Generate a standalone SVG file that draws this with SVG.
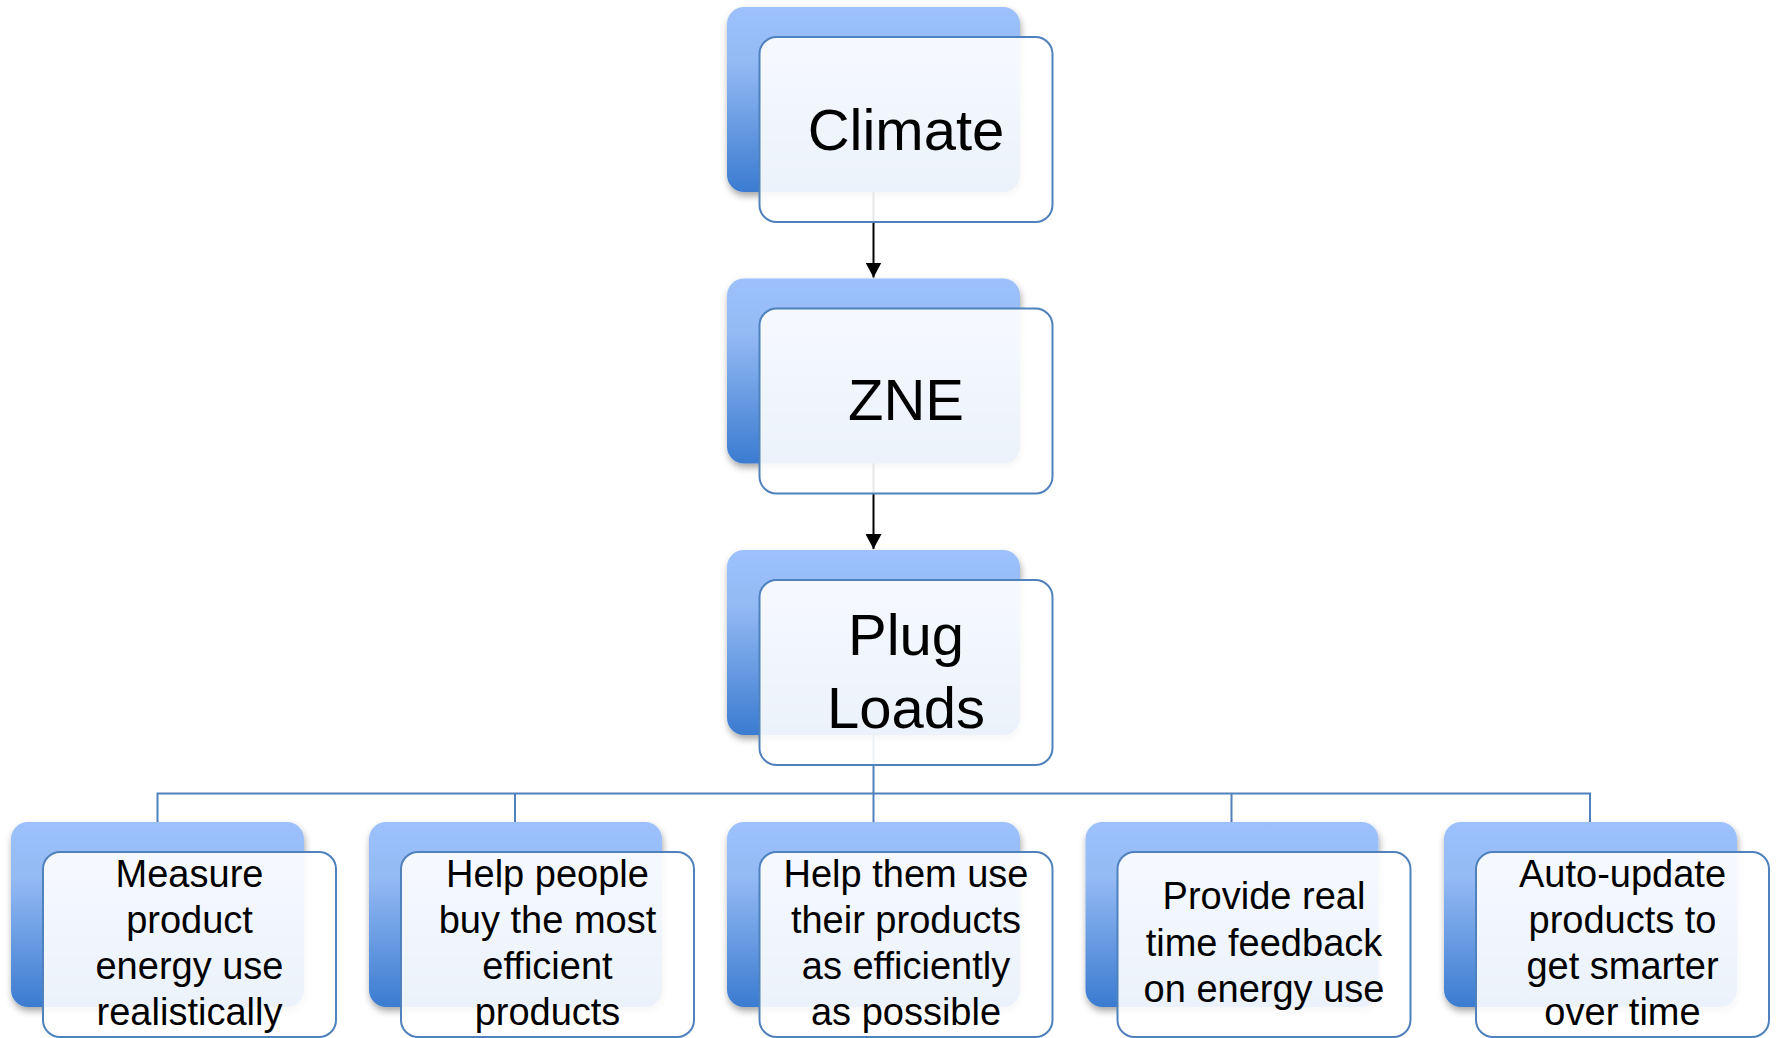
<svg xmlns="http://www.w3.org/2000/svg" width="1777" height="1038" viewBox="0 0 1777 1038">
<defs>
<linearGradient id="blueGrad" x1="0" y1="0" x2="0" y2="1">
<stop offset="0" stop-color="#9cc1fc"/>
<stop offset="0.3" stop-color="#94baf4"/>
<stop offset="1" stop-color="#3b7bd0"/>
</linearGradient>
<filter id="shadow" x="-10%" y="-10%" width="125%" height="130%">
<feDropShadow dx="1" dy="4" stdDeviation="3.5" flood-color="#000" flood-opacity="0.35"/>
</filter>
<marker id="arrow" viewBox="0 0 15 16" refX="15" refY="8" markerWidth="15" markerHeight="16" markerUnits="userSpaceOnUse" orient="auto">
<path d="M0,0 L15,8 L0,16 Z" fill="#000"/>
</marker>
<style>
.back{fill:url(#blueGrad);filter:url(#shadow);}
.front{fill:#ffffff;fill-opacity:0.9;stroke:#4f81bd;stroke-width:2;}
.big{font-family:"Liberation Sans",Arial,sans-serif;font-size:58px;fill:#000;text-anchor:middle;}
.small{font-family:"Liberation Sans",Arial,sans-serif;font-size:38px;fill:#000;text-anchor:middle;}
.arr{stroke:#000;stroke-width:2;fill:none;}
.tree{stroke:#4f81bd;stroke-width:2;fill:none;}
</style>
</defs>
<rect width="1777" height="1038" fill="#ffffff"/>
<g id="connectors">
<line class="arr" x1="873.5" y1="192" x2="873.5" y2="277.5" marker-end="url(#arrow)"/>
<line class="arr" x1="873.5" y1="463" x2="873.5" y2="549" marker-end="url(#arrow)"/>
<path class="tree" d="M873.5,735 V793.5 M157.5,822 V793.5 H1590 V822 M515,793.5 V822 M873.5,793.5 V822 M1231.5,793.5 V822"/>
</g>
<g id="node-climate">
<rect class="back" x="727" y="7" width="293" height="185" rx="17"/>
<rect class="front" x="759.5" y="37" width="293" height="185" rx="17"/>
<text class="big" x="906" y="150">Climate</text>
</g>
<g id="node-zne">
<rect class="back" x="727" y="278.5" width="293" height="185" rx="17"/>
<rect class="front" x="759.5" y="308.5" width="293" height="185" rx="17"/>
<text class="big" x="906" y="420">ZNE</text>
</g>
<g id="node-plugloads">
<rect class="back" x="727" y="550" width="293" height="185" rx="17"/>
<rect class="front" x="759.5" y="580" width="293" height="185" rx="17"/>
<text class="big" x="906" y="655">Plug</text>
<text class="big" x="906" y="728">Loads</text>
</g>
<g id="node-measure">
<rect class="back" x="11" y="822" width="293" height="185" rx="17"/>
<rect class="front" x="43" y="852" width="293" height="185" rx="17"/>
<text class="small" x="189.5" y="887">Measure</text>
<text class="small" x="189.5" y="933">product</text>
<text class="small" x="189.5" y="979">energy use</text>
<text class="small" x="189.5" y="1025">realistically</text>
</g>
<g id="node-help-buy">
<rect class="back" x="369" y="822" width="293" height="185" rx="17"/>
<rect class="front" x="401" y="852" width="293" height="185" rx="17"/>
<text class="small" x="547.5" y="887">Help people</text>
<text class="small" x="547.5" y="933">buy the most</text>
<text class="small" x="547.5" y="979">efficient</text>
<text class="small" x="547.5" y="1025">products</text>
</g>
<g id="node-help-use">
<rect class="back" x="727" y="822" width="293" height="185" rx="17"/>
<rect class="front" x="759.5" y="852" width="293" height="185" rx="17"/>
<text class="small" x="906" y="887">Help them use</text>
<text class="small" x="906" y="933">their products</text>
<text class="small" x="906" y="979">as efficiently</text>
<text class="small" x="906" y="1025">as possible</text>
</g>
<g id="node-feedback">
<rect class="back" x="1085.5" y="822" width="293" height="185" rx="17"/>
<rect class="front" x="1117.5" y="852" width="293" height="185" rx="17"/>
<text class="small" x="1264" y="909">Provide real</text>
<text class="small" x="1264" y="955.5">time feedback</text>
<text class="small" x="1264" y="1002">on energy use</text>
</g>
<g id="node-autoupdate">
<rect class="back" x="1444" y="822" width="293" height="185" rx="17"/>
<rect class="front" x="1476" y="852" width="293" height="185" rx="17"/>
<text class="small" x="1622.5" y="887">Auto-update</text>
<text class="small" x="1622.5" y="933">products to</text>
<text class="small" x="1622.5" y="979">get smarter</text>
<text class="small" x="1622.5" y="1025">over time</text>
</g>
</svg>
